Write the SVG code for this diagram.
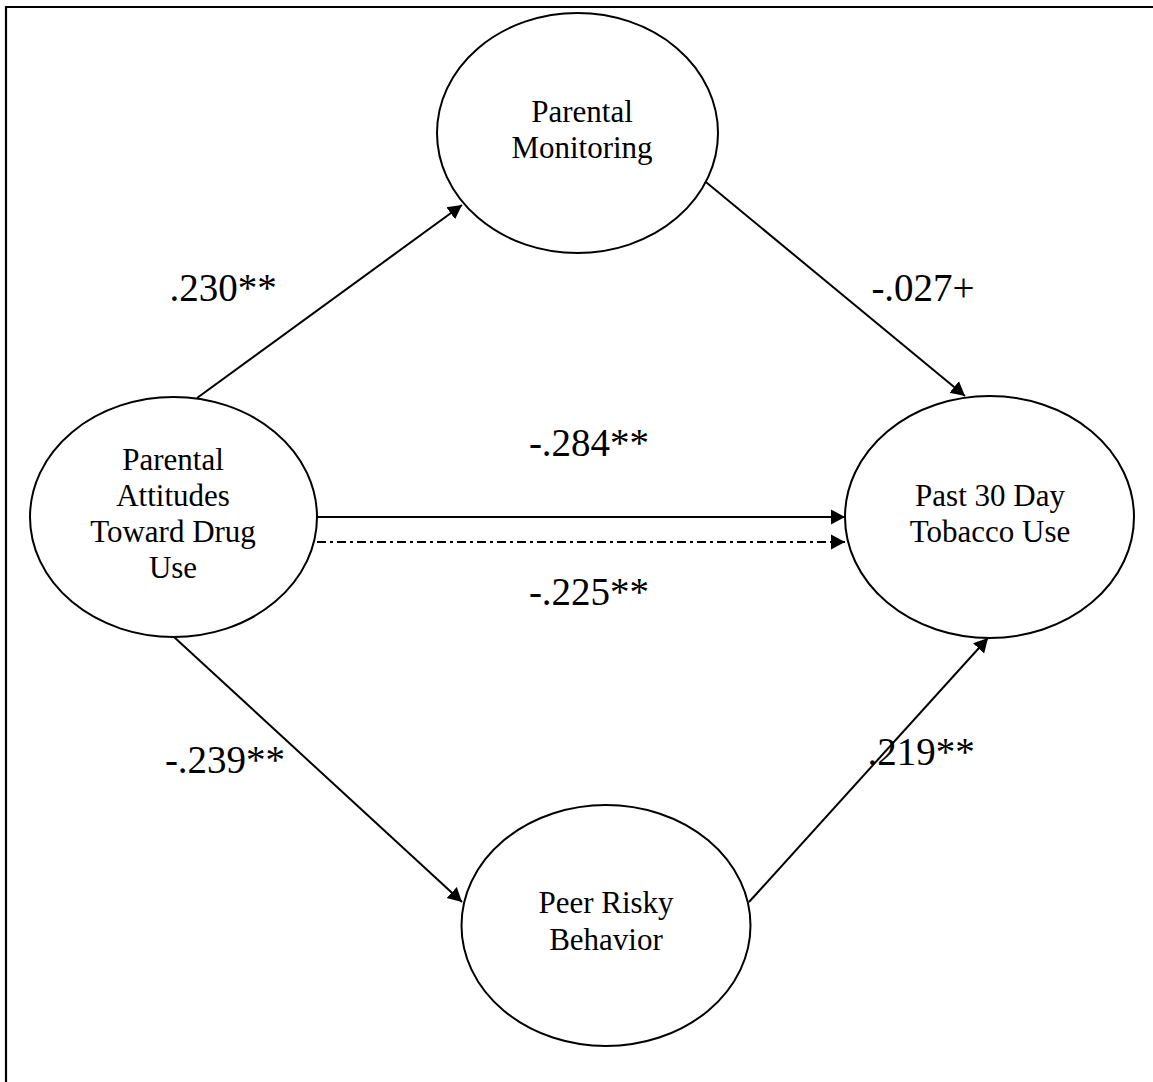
<svg xmlns="http://www.w3.org/2000/svg" width="1153" height="1082" viewBox="0 0 1153 1082">
<style>
.node ellipse{fill:#fff;stroke:#000;stroke-width:2}
.node text,.lbl{font-family:"Liberation Serif","Times New Roman",serif;font-size:31px;fill:#000;text-anchor:middle}
.lbl{font-size:39px}
.edge{stroke:#000;stroke-width:2;fill:none}
.dashdot{stroke-dasharray:9 4 3 4}
</style>
<defs>
<marker id="arr" markerUnits="userSpaceOnUse" markerWidth="15" markerHeight="16" refX="14" refY="7.5" orient="auto" viewBox="0 0 15 15">
<path d="M0,0 L14,7.5 L0,15 z" fill="#000"/>
</marker>
</defs>
<rect width="1153" height="1082" fill="#fff"/>
<path d="M6,1082 V7 H1153" fill="none" stroke="#000" stroke-width="2.2"/>
<g id="connectors">
<line class="edge" x1="197" y1="398" x2="462" y2="205" marker-end="url(#arr)"/>
<line class="edge" x1="701" y1="178" x2="965" y2="396" marker-end="url(#arr)"/>
<line class="edge" x1="317" y1="517" x2="845" y2="517" marker-end="url(#arr)"/>
<line class="edge dashdot" x1="317" y1="542" x2="845" y2="542" marker-end="url(#arr)"/>
<line class="edge" x1="174" y1="637" x2="462" y2="902" marker-end="url(#arr)"/>
<line class="edge" x1="749" y1="902" x2="988" y2="638" marker-end="url(#arr)"/>
</g>
<g id="labels">
<text class="lbl" x="223" y="301">.230**</text>
<text class="lbl" x="923" y="301">-.027+</text>
<text class="lbl" x="589" y="456">-.284**</text>
<text class="lbl" x="589" y="605">-.225**</text>
<text class="lbl" x="225" y="773">-.239**</text>
<text class="lbl" x="921" y="765">.219**</text>
</g>
<g id="node-monitoring" class="node">
<ellipse cx="577.5" cy="133" rx="140.5" ry="120"/>
<text x="582" y="122">Parental</text>
<text x="582" y="158">Monitoring</text>
</g>
<g id="node-attitudes" class="node">
<ellipse cx="173.5" cy="517" rx="143.5" ry="120"/>
<text x="173" y="470">Parental</text>
<text x="173" y="506">Attitudes</text>
<text x="173" y="542">Toward Drug</text>
<text x="173" y="578">Use</text>
</g>
<g id="node-tobacco" class="node">
<ellipse cx="989.5" cy="517" rx="144.5" ry="121"/>
<text x="990" y="506">Past 30 Day</text>
<text x="990" y="542">Tobacco Use</text>
</g>
<g id="node-peer" class="node">
<ellipse cx="606" cy="925.5" rx="144.5" ry="120.5"/>
<text x="606" y="913">Peer Risky</text>
<text x="606" y="950">Behavior</text>
</g>
</svg>
